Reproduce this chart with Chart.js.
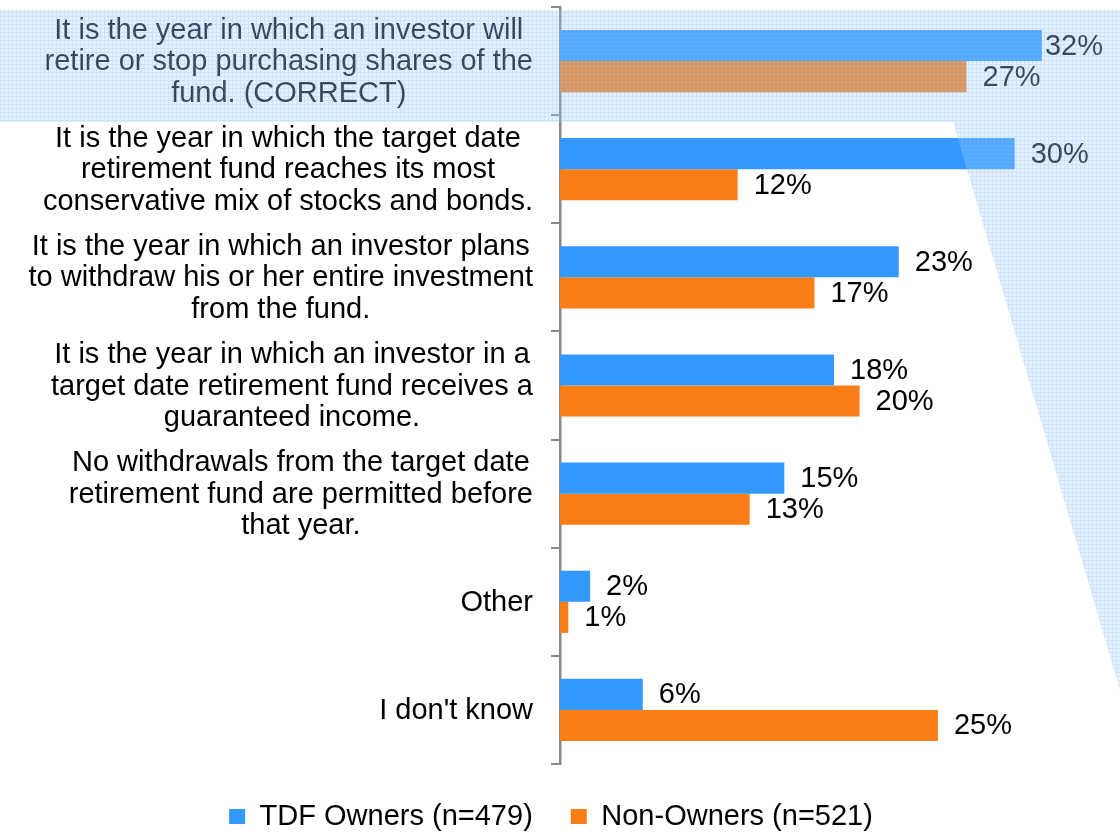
<!DOCTYPE html>
<html>
<head>
<meta charset="utf-8">
<script src="https://cdn.jsdelivr.net/npm/chart.js@4.4.1/dist/chart.umd.min.js"></script>
<style>
  html, body { margin: 0; padding: 0; background: #fff; }
</style>
</head>
<body>
<canvas id="chart" width="1120" height="836"></canvas>
<script>
// Categories (one array of lines per answer)
const categories = [
  ['It is the year in which an investor will', 'retire or stop purchasing shares of the', 'fund. (CORRECT)'],
  ['It is the year in which the target date', 'retirement fund reaches its most', 'conservative mix of stocks and bonds.'],
  ['It is the year in which an investor plans', 'to withdraw his or her entire investment', 'from the fund.'],
  ['It is the year in which an investor in a', 'target date retirement fund receives a', 'guaranteed income.'],
  ['No withdrawals from the target date', 'retirement fund are permitted before', 'that year.'],
  ['Other'],
  ["I don't know"]
];
const tdfOwners = [32, 30.2, 22.5, 18.2, 14.9, 2.0, 5.5];
const nonOwners = [27, 11.8, 16.9, 19.9, 12.6, 0.55, 25.1];
const seriesNames = ['TDF Owners (n=479)', 'Non-Owners (n=521)'];

const FONT = "'Liberation Sans', Arial, sans-serif";
const FONT_SIZE = 29;
Chart.defaults.font.family = FONT;

// Multi-line category labels: each block centred on itself, right edge next to the axis
const categoryLabels = {
    id: 'categoryLabels',
    afterDraw(chart) {
        const ctx = chart.ctx;
        const yScale = chart.scales.y;
        const right = chart.chartArea.left - 27;
        const lineHeight = 31.5;
        ctx.save();
        ctx.font = FONT_SIZE + 'px ' + FONT;
        ctx.fillStyle = '#000';
        ctx.textAlign = 'center';
        ctx.textBaseline = 'middle';
        categories.forEach((lines, i) => {
            const yc = yScale.getPixelForValue(i);
            const maxW = Math.max(...lines.map(l => ctx.measureText(l).width));
            const cx = right - maxW / 2;
            const y0 = yc - (lines.length - 1) / 2 * lineHeight;
            lines.forEach((l, j) => ctx.fillText(l, cx, y0 + j * lineHeight + 1));
        });
        ctx.restore();
    }
};

// Percentage labels at the end of every bar
const valueLabels = {
    id: 'valueLabels',
    afterDatasetsDraw(chart) {
        const ctx = chart.ctx;
        ctx.save();
        ctx.font = FONT_SIZE + 'px ' + FONT;
        ctx.fillStyle = '#000';
        ctx.textAlign = 'left';
        ctx.textBaseline = 'middle';
        chart.data.datasets.forEach((ds, di) => {
            chart.getDatasetMeta(di).data.forEach((bar, i) => {
                const text = Math.round(ds.data[i]) + '%';
                const w = ctx.measureText(text).width;
                const x = Math.min(bar.x + 16, chart.chartArea.right + 1 - w);
                ctx.fillText(text, x, bar.y + 1);
            });
        });
        ctx.restore();
    }
};

// Light blue dotted call-out over the correct answer
const highlight = {
    id: 'highlight',
    afterDraw(chart) {
        const ctx = chart.ctx;
        const W = chart.width;
        const tile = document.createElement('canvas');
        tile.width = 4; tile.height = 4;
        const t = tile.getContext('2d');
        t.fillStyle = 'rgba(160,205,255,0.3)';
        t.fillRect(0, 0, 4, 4);
        t.fillStyle = 'rgba(110,170,245,0.18)';
        t.fillRect(0, 0, 4, 1);
        t.fillRect(0, 1, 1, 3);
        t.fillStyle = 'rgba(255,255,255,0.25)';
        t.fillRect(2, 2, 1, 1);
        const pattern = ctx.createPattern(tile, 'repeat');

        ctx.save();
        ctx.fillStyle = pattern;
        ctx.beginPath();
        ctx.moveTo(0, 10);
        ctx.lineTo(W, 10);
        ctx.lineTo(W, 690);
        ctx.lineTo(953, 122);
        ctx.lineTo(0, 122);
        ctx.closePath();
        ctx.fill();
        ctx.restore();
    }
};

new Chart(document.getElementById('chart'), {
    type: 'bar',
    data: {
        labels: categories.map(c => c.join(' ')),
        datasets: [
            {
                label: seriesNames[0],
                data: tdfOwners,
                backgroundColor: '#3399FF',
                categoryPercentage: 0.575,
                barPercentage: 1.0
            },
            {
                label: seriesNames[1],
                data: nonOwners,
                backgroundColor: '#FA7D15',
                categoryPercentage: 0.575,
                barPercentage: 1.0
            }
        ]
    },
    options: {
        indexAxis: 'y',
        responsive: false,
        animation: false,
        devicePixelRatio: 1,
        layout: {
            padding: { top: 7, right: 18, bottom: -5, left: 0 }
        },
        scales: {
            x: {
                display: false,
                min: 0,
                max: 36
            },
            y: {
                position: 'left',
                offset: true,
                z: 1,
                ticks: { display: false },
                grid: {
                    display: true,
                    offset: true,
                    drawOnChartArea: false,
                    drawTicks: true,
                    tickLength: 9,
                    color: '#888',
                    lineWidth: 2
                },
                border: {
                    display: true,
                    color: '#888',
                    width: 2.5
                },
                afterFit: (scale) => { scale.width = 560; }
            }
        },
        plugins: {
            legend: {
                display: true,
                position: 'bottom',
                labels: {
                    boxWidth: 16,
                    boxHeight: 15,
                    padding: 38,
                    color: '#000',
                    font: { size: FONT_SIZE }
                }
            },
            tooltip: { enabled: false },
            title: { display: false }
        }
    },
    plugins: [valueLabels, categoryLabels, highlight]
});
</script>
</body>
</html>
